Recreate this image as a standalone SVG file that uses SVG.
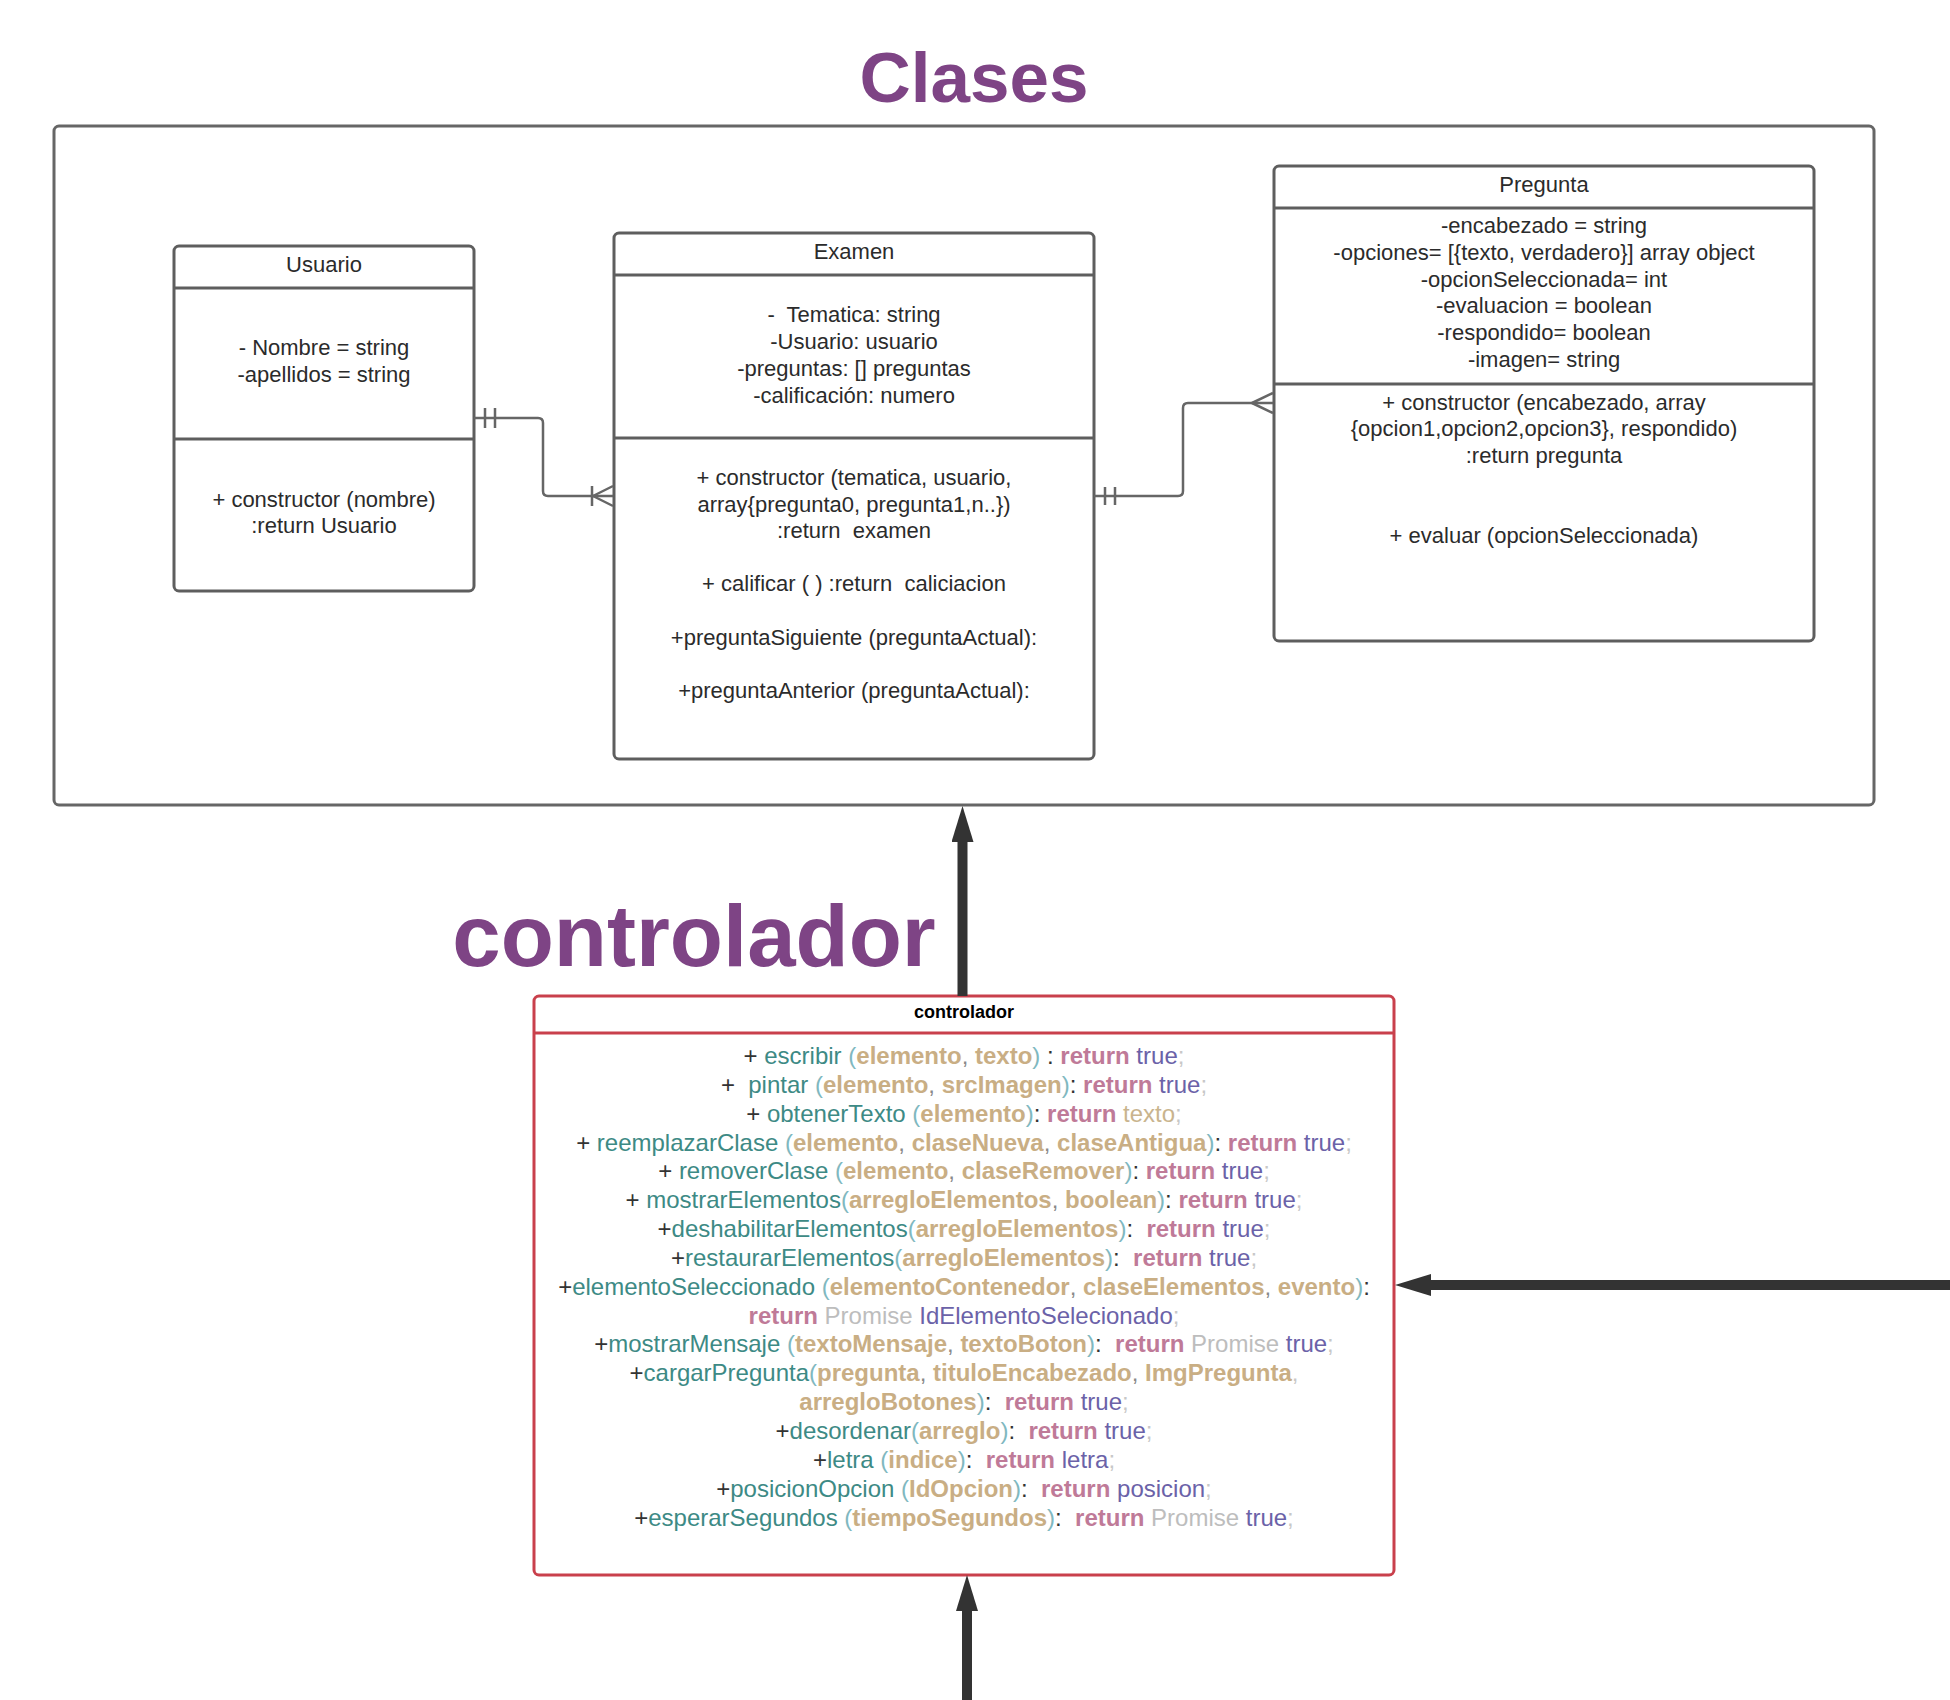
<svg xmlns="http://www.w3.org/2000/svg" width="1950" height="1700" viewBox="0 0 1950 1700">
<defs>
<style>
text{font-family:"Liberation Sans",Arial,sans-serif;white-space:pre}
.title{font-weight:bold;fill:#7e4485;text-anchor:middle}
.box{fill:#fff;stroke:#5e5e5e;stroke-width:3}
.sep{stroke:#5e5e5e;stroke-width:3}
.ctl{fill:#fff;stroke:#c9404c;stroke-width:3}
.csep{stroke:#c9404c;stroke-width:3}
.t22{font-size:22px;fill:#2b2b2b;text-anchor:middle}
.conn{fill:none;stroke:#666;stroke-width:2.5}
.thick{fill:none;stroke:#333;stroke-width:10}
.cl{font-size:24px;text-anchor:middle;fill:#333}
.m{fill:#3d8a85}
.p{fill:#80b8c0}
.a{fill:#c9ae84;font-weight:bold}
.c{fill:#8a8a8a}
.r{fill:#bf7a98;font-weight:bold}
.v{fill:#6b62a8}
.s{fill:#c8c8c8}
.g{fill:#bdbdbd}
.t{fill:#c9b48e}
</style>
<marker id="ah" viewBox="0 0 36 22" refX="0" refY="11" markerWidth="36" markerHeight="22" markerUnits="userSpaceOnUse" orient="auto">
<path d="M0,0 L36,11 L0,22 z" fill="#333"/>
</marker>
</defs>
<rect width="1950" height="1700" fill="#fff"/>

<text class="title" x="974" y="102" font-size="71">Clases</text>
<rect id="frame" x="54" y="126" width="1820" height="679" rx="5" fill="none" stroke="#666" stroke-width="3"/>
<text class="title" x="694" y="966" font-size="87">controlador</text>

<g id="usuario">
<rect class="box" x="174" y="246" width="300" height="345" rx="5"/>
<line class="sep" x1="174" y1="288" x2="474" y2="288"/>
<line class="sep" x1="174" y1="439" x2="474" y2="439"/>
<text class="t22" x="324" y="272">Usuario</text>
<text class="t22" x="324" y="355">- Nombre = string</text>
<text class="t22" x="324" y="382">-apellidos = string</text>
<text class="t22" x="324" y="507">+ constructor (nombre)</text>
<text class="t22" x="324" y="533">:return Usuario</text>
</g>

<g id="examen">
<rect class="box" x="614" y="233" width="480" height="526" rx="5"/>
<line class="sep" x1="614" y1="275" x2="1094" y2="275"/>
<line class="sep" x1="614" y1="438" x2="1094" y2="438"/>
<text class="t22" x="854" y="259">Examen</text>
<text class="t22" x="854" y="322">-  Tematica: string</text>
<text class="t22" x="854" y="349">-Usuario: usuario</text>
<text class="t22" x="854" y="376">-preguntas: [] preguntas</text>
<text class="t22" x="854" y="403">-calificación: numero</text>
<text class="t22" x="854" y="485">+ constructor (tematica, usuario,</text>
<text class="t22" x="854" y="512">array{pregunta0, pregunta1,n..})</text>
<text class="t22" x="854" y="538">:return  examen</text>
<text class="t22" x="854" y="591">+ calificar ( ) :return  caliciacion</text>
<text class="t22" x="854" y="645">+preguntaSiguiente (preguntaActual):</text>
<text class="t22" x="854" y="698">+preguntaAnterior (preguntaActual):</text>
</g>

<g id="pregunta">
<rect class="box" x="1274" y="166" width="540" height="475" rx="5"/>
<line class="sep" x1="1274" y1="208" x2="1814" y2="208"/>
<line class="sep" x1="1274" y1="384" x2="1814" y2="384"/>
<text class="t22" x="1544" y="192">Pregunta</text>
<text class="t22" x="1544" y="233">-encabezado = string</text>
<text class="t22" x="1544" y="260">-opciones= [{texto, verdadero}] array object</text>
<text class="t22" x="1544" y="287">-opcionSeleccionada= int</text>
<text class="t22" x="1544" y="313">-evaluacion = boolean</text>
<text class="t22" x="1544" y="340">-respondido= boolean</text>
<text class="t22" x="1544" y="367">-imagen= string</text>
<text class="t22" x="1544" y="410">+ constructor (encabezado, array</text>
<text class="t22" x="1544" y="436">{opcion1,opcion2,opcion3}, respondido)</text>
<text class="t22" x="1544" y="463">:return pregunta</text>
<text class="t22" x="1544" y="543">+ evaluar (opcionSeleccionada)</text>
</g>

<g id="controlador">
<rect class="ctl" x="534" y="996" width="860" height="579" rx="5"/>
<line class="csep" x1="534" y1="1033" x2="1394" y2="1033"/>
<text x="964" y="1018" font-size="18" font-weight="bold" fill="#000" text-anchor="middle">controlador</text>
<text class="cl" y="1064"><tspan x="964">+ </tspan><tspan class="m">escribir </tspan><tspan class="p">(</tspan><tspan class="a">elemento</tspan><tspan class="c">, </tspan><tspan class="a">texto</tspan><tspan class="p">)</tspan><tspan> : </tspan><tspan class="r">return</tspan><tspan class="v"> true</tspan><tspan class="s">;</tspan></text>
<text class="cl" y="1093"><tspan x="964">+  </tspan><tspan class="m">pintar </tspan><tspan class="p">(</tspan><tspan class="a">elemento</tspan><tspan class="c">, </tspan><tspan class="a">srcImagen</tspan><tspan class="p">)</tspan><tspan>: </tspan><tspan class="r">return</tspan><tspan class="v"> true</tspan><tspan class="s">;</tspan></text>
<text class="cl" y="1122"><tspan x="964">+ </tspan><tspan class="m">obtenerTexto </tspan><tspan class="p">(</tspan><tspan class="a">elemento</tspan><tspan class="p">)</tspan><tspan>: </tspan><tspan class="r">return</tspan><tspan class="t"> texto</tspan><tspan class="s">;</tspan></text>
<text class="cl" y="1151"><tspan x="964">+ </tspan><tspan class="m">reemplazarClase </tspan><tspan class="p">(</tspan><tspan class="a">elemento</tspan><tspan class="c">, </tspan><tspan class="a">claseNueva</tspan><tspan class="c">, </tspan><tspan class="a">claseAntigua</tspan><tspan class="p">)</tspan><tspan>: </tspan><tspan class="r">return</tspan><tspan class="v"> true</tspan><tspan class="s">;</tspan></text>
<text class="cl" y="1179"><tspan x="964">+ </tspan><tspan class="m">removerClase </tspan><tspan class="p">(</tspan><tspan class="a">elemento</tspan><tspan class="c">, </tspan><tspan class="a">claseRemover</tspan><tspan class="p">)</tspan><tspan>: </tspan><tspan class="r">return</tspan><tspan class="v"> true</tspan><tspan class="s">;</tspan></text>
<text class="cl" y="1208"><tspan x="964">+ </tspan><tspan class="m">mostrarElementos</tspan><tspan class="p">(</tspan><tspan class="a">arregloElementos</tspan><tspan class="c">, </tspan><tspan class="a">boolean</tspan><tspan class="p">)</tspan><tspan>: </tspan><tspan class="r">return</tspan><tspan class="v"> true</tspan><tspan class="s">;</tspan></text>
<text class="cl" y="1237"><tspan x="964">+</tspan><tspan class="m">deshabilitarElementos</tspan><tspan class="p">(</tspan><tspan class="a">arregloElementos</tspan><tspan class="p">)</tspan><tspan>:  </tspan><tspan class="r">return</tspan><tspan class="v"> true</tspan><tspan class="s">;</tspan></text>
<text class="cl" y="1266"><tspan x="964">+</tspan><tspan class="m">restaurarElementos</tspan><tspan class="p">(</tspan><tspan class="a">arregloElementos</tspan><tspan class="p">)</tspan><tspan>:  </tspan><tspan class="r">return</tspan><tspan class="v"> true</tspan><tspan class="s">;</tspan></text>
<text class="cl" y="1295"><tspan x="964">+</tspan><tspan class="m">elementoSeleccionado </tspan><tspan class="p">(</tspan><tspan class="a">elementoContenedor</tspan><tspan class="c">, </tspan><tspan class="a">claseElementos</tspan><tspan class="c">, </tspan><tspan class="a">evento</tspan><tspan class="p">)</tspan><tspan>:</tspan></text>
<text class="cl" y="1324"><tspan x="964" class="r">return</tspan><tspan class="g"> Promise</tspan><tspan class="v"> IdElementoSelecionado</tspan><tspan class="s">;</tspan></text>
<text class="cl" y="1352"><tspan x="964">+</tspan><tspan class="m">mostrarMensaje </tspan><tspan class="p">(</tspan><tspan class="a">textoMensaje</tspan><tspan class="c">, </tspan><tspan class="a">textoBoton</tspan><tspan class="p">)</tspan><tspan>:  </tspan><tspan class="r">return</tspan><tspan class="g"> Promise</tspan><tspan class="v"> true</tspan><tspan class="s">;</tspan></text>
<text class="cl" y="1381"><tspan x="964">+</tspan><tspan class="m">cargarPregunta</tspan><tspan class="p">(</tspan><tspan class="a">pregunta</tspan><tspan class="c">, </tspan><tspan class="a">tituloEncabezado</tspan><tspan class="c">, </tspan><tspan class="a">ImgPregunta</tspan><tspan class="s">,</tspan></text>
<text class="cl" y="1410"><tspan x="964" class="a">arregloBotones</tspan><tspan class="p">)</tspan><tspan>:  </tspan><tspan class="r">return</tspan><tspan class="v"> true</tspan><tspan class="s">;</tspan></text>
<text class="cl" y="1439"><tspan x="964">+</tspan><tspan class="m">desordenar</tspan><tspan class="p">(</tspan><tspan class="a">arreglo</tspan><tspan class="p">)</tspan><tspan>:  </tspan><tspan class="r">return</tspan><tspan class="v"> true</tspan><tspan class="s">;</tspan></text>
<text class="cl" y="1468"><tspan x="964">+</tspan><tspan class="m">letra </tspan><tspan class="p">(</tspan><tspan class="a">indice</tspan><tspan class="p">)</tspan><tspan>:  </tspan><tspan class="r">return</tspan><tspan class="v"> letra</tspan><tspan class="s">;</tspan></text>
<text class="cl" y="1497"><tspan x="964">+</tspan><tspan class="m">posicionOpcion </tspan><tspan class="p">(</tspan><tspan class="a">IdOpcion</tspan><tspan class="p">)</tspan><tspan>:  </tspan><tspan class="r">return</tspan><tspan class="v"> posicion</tspan><tspan class="s">;</tspan></text>
<text class="cl" y="1526"><tspan x="964">+</tspan><tspan class="m">esperarSegundos </tspan><tspan class="p">(</tspan><tspan class="a">tiempoSegundos</tspan><tspan class="p">)</tspan><tspan>:  </tspan><tspan class="r">return</tspan><tspan class="g"> Promise</tspan><tspan class="v"> true</tspan><tspan class="s">;</tspan></text>
</g>

<g id="connectors">
<path class="conn" d="M474,418 H538 Q543,418 543,423 V491 Q543,496 548,496 H613"/>
<path class="conn" d="M485,408 V428 M495,408 V428"/>
<path class="conn" d="M592,486 V506 M593,496 L613,486 M593,496 L613,506"/>
<path class="conn" d="M1094,496 H1178 Q1183,496 1183,491 V408 Q1183,403 1188,403 H1273"/>
<path class="conn" d="M1105,487 V505 M1115,487 V505"/>
<path class="conn" d="M1252,403 L1273,393 M1252,403 L1273,413"/>
<path class="thick" d="M962.5,996 V842" marker-end="url(#ah)"/>
<path class="thick" d="M1950,1285 H1431" marker-end="url(#ah)"/>
<path class="thick" d="M967,1700 V1611" marker-end="url(#ah)"/>
</g>
</svg>
